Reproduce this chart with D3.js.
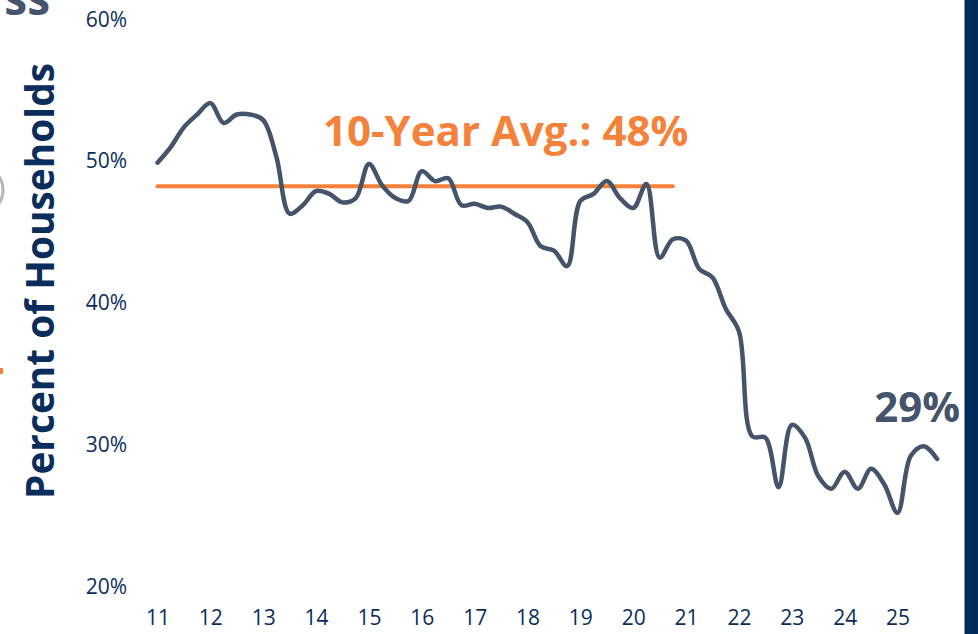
<!DOCTYPE html>
<html>
<head>
<meta charset="utf-8">
<script src="https://cdn.jsdelivr.net/npm/d3@7"></script>
<style>
  html, body { margin: 0; padding: 0; background: #ffffff; }
  svg { display: block; }
</style>
</head>
<body>
<svg id="chart" width="978" height="634"></svg>
<script>
// ---- Data (quarterly, 2011 Q1 .. 2025 Q4) ----
const startYear = 2011;
const values = [
  49.9, 51.0, 52.4, 53.3, 54.1, 52.7, 53.3, 53.3, 52.9, 50.3,
  46.3, 46.9, 47.9, 47.7, 47.1, 47.4, 49.8, 48.3, 47.4, 47.2,
  49.3, 48.6, 48.8, 46.9, 47.0, 46.7, 46.8, 46.3, 45.7, 44.0,
  43.7, 42.6, 47.2, 47.7, 48.6, 47.4, 46.7, 48.4, 43.2, 44.5,
  44.4, 42.4, 41.8, 39.6, 38.0, 30.6, 30.5, 27.0, 31.4, 30.5,
  27.8, 26.9, 28.1, 26.9, 28.3, 27.2, 25.2, 29.2, 29.9, 29.0
];
const xTickYears = [2011,2012,2013,2014,2015,2016,2017,2018,2019,2020,2021,2022,2023,2024,2025];
const yTicks = [20, 30, 40, 50, 60];
const avgQuarters = 40; // 10 years: 2011 Q1 .. 2020 Q4
const avgLabel = "10-Year Avg.: 48%";
const lastLabel = "29%";
const yTitle = "Percent of Households";

const data = values.map((v, i) => ({ t: startYear + i / 4, v }));
const avgValue = d3.mean(values.slice(0, avgQuarters));

// ---- Layout ----
const svg = d3.select("#chart");
const font = "'Open Sans', 'DejaVu Sans', sans-serif";
const navy = "#0b2d5b";
const slate = "#44546a";
const orange = "#f5823a";

const x = d3.scaleLinear().domain([2011, 2025]).range([157.5, 897.5]);
const y = d3.scaleLinear().domain([20, 60]).range([586.5, 19.5]);

// right navy band
svg.append("rect").attr("x", 964.5).attr("y", 0).attr("width", 14).attr("height", 634).attr("fill", "#002b5c");

// cropped neighbours on left edge
svg.append("text").attr("x", 50).attr("y", 15).attr("text-anchor", "end")
  .attr("font-family", font).attr("font-weight", 700).attr("font-size", 46)
  .attr("fill", slate).text("ss");
svg.append("circle").attr("cx", -22).attr("cy", 190).attr("r", 25)
  .attr("fill", "none").attr("stroke", "#b5b5b5").attr("stroke-width", 3);
svg.append("rect").attr("x", 0).attr("y", 368).attr("width", 3).attr("height", 6).attr("fill", orange);

// y axis
const yAxis = svg.append("g").attr("transform", "translate(135,0)")
  .call(d3.axisLeft(y).tickValues(yTicks).tickSize(0).tickPadding(8).tickFormat(d => d + "%"));
yAxis.select(".domain").remove();
yAxis.selectAll("text").attr("font-family", font).attr("font-size", 21).attr("fill", navy);

// x axis
const xAxis = svg.append("g").attr("transform", "translate(0,606)")
  .call(d3.axisBottom(x).tickValues(xTickYears).tickSize(0).tickPadding(4).tickFormat(d => String(d % 100)));
xAxis.select(".domain").remove();
xAxis.selectAll("text").attr("font-family", font).attr("font-size", 21).attr("fill", navy);

// y title
svg.append("text")
  .attr("transform", "translate(54,281) rotate(-90)")
  .attr("text-anchor", "middle")
  .attr("font-family", font).attr("font-weight", 700).attr("font-size", 38.8)
  .attr("fill", navy).text(yTitle);

// average line
svg.append("line")
  .attr("x1", x(data[0].t)).attr("x2", x(data[avgQuarters - 1].t))
  .attr("y1", y(avgValue)).attr("y2", y(avgValue))
  .attr("stroke", orange).attr("stroke-width", 4).attr("stroke-linecap", "round");

// main line
const line = d3.line().x(d => x(d.t)).y(d => y(d.v)).curve(d3.curveCatmullRom.alpha(0.5));
svg.append("path").datum(data).attr("d", line)
  .attr("fill", "none").attr("stroke", slate).attr("stroke-width", 4.5)
  .attr("stroke-linejoin", "round").attr("stroke-linecap", "round");

// labels
svg.append("text").attr("x", 323).attr("y", 146)
  .attr("font-family", font).attr("font-weight", 700).attr("font-size", 42)
  .attr("fill", orange).text(avgLabel);

svg.append("text").attr("x", 960).attr("y", 422).attr("text-anchor", "end")
  .attr("font-family", font).attr("font-weight", 700).attr("font-size", 42)
  .attr("fill", slate).text(lastLabel);
</script>
</body>
</html>
